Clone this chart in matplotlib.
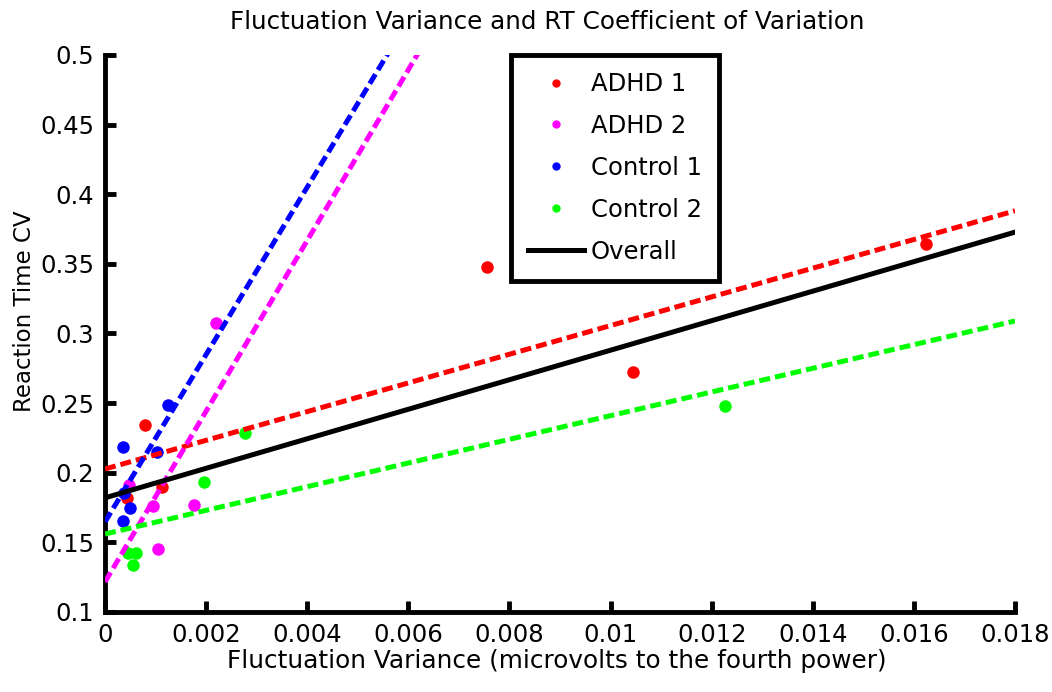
import numpy as np
import matplotlib
matplotlib.use('Agg')
import matplotlib.pyplot as plt
from matplotlib.lines import Line2D

plt.rcParams['font.family'] = ['DejaVu Sans']

# data
adhd1_x = [0.00044, 0.00079, 0.00113, 0.00756, 0.01044, 0.01624]
adhd1_y = [0.182, 0.234, 0.190, 0.348, 0.272, 0.364]
adhd2_x = [0.00047, 0.00095, 0.00176, 0.00105, 0.00220]
adhd2_y = [0.191, 0.176, 0.177, 0.145, 0.3075]
ctrl1_x = [0.00038, 0.00049, 0.00036, 0.00036, 0.00103, 0.00125]
ctrl1_y = [0.1855, 0.175, 0.165, 0.2185, 0.215, 0.2487]
ctrl2_x = [0.00277, 0.00196, 0.01226, 0.00045, 0.00061, 0.00055]
ctrl2_y = [0.2286, 0.1934, 0.248, 0.1424, 0.1424, 0.1338]

# fitted lines (intercept, slope)
fit_adhd1 = (0.2027, 10.3)
fit_adhd2 = (0.1216, 61.3)
fit_ctrl1 = (0.1647, 60.1)
fit_ctrl2 = (0.156, 8.5)
fit_all = (0.182, 10.6)

groups = [
    ('ADHD 1', adhd1_x, adhd1_y, fit_adhd1, '#ff0000'),
    ('ADHD 2', adhd2_x, adhd2_y, fit_adhd2, '#ff00ff'),
    ('Control 1', ctrl1_x, ctrl1_y, fit_ctrl1, '#0000ff'),
    ('Control 2', ctrl2_x, ctrl2_y, fit_ctrl2, '#00ff00'),
]

fig = plt.figure(figsize=(10.52, 6.92), dpi=100)
ax = fig.add_axes([105/1052, 1-612/692, 910/1052, 557/692])

xx = np.linspace(0, 0.018, 400)

for name, x, y, fit, c in groups:
    ax.plot(x, y, 'o', color=c, markersize=9, markeredgewidth=0, zorder=2)

for name, x, y, fit, c in groups:
    ax.plot(xx, fit[0] + fit[1]*xx, '--', color=c, lw=3.6, dashes=(2.2, 1.0), zorder=3)

ax.plot(xx, fit_all[0] + fit_all[1]*xx, '-', color='black', lw=3.6, zorder=4)

ax.set_xlim(0, 0.018)
ax.set_ylim(0.1, 0.5)
ax.set_xticks(np.arange(0, 0.0181, 0.002))
ax.set_xticklabels(['0', '0.002', '0.004', '0.006', '0.008', '0.01', '0.012', '0.014', '0.016', '0.018'])
ax.set_yticks(np.arange(0.1, 0.501, 0.05))
ax.set_yticklabels(['0.1', '0.15', '0.2', '0.25', '0.3', '0.35', '0.4', '0.45', '0.5'])

for s in ['top', 'right']:
    ax.spines[s].set_visible(False)
for s in ['left', 'bottom']:
    ax.spines[s].set_linewidth(3.5)
ax.tick_params(direction='in', length=8, width=3.5, labelsize=17.5, pad=8)

ax.set_title('Fluctuation Variance and RT Coefficient of Variation', fontsize=17.7, pad=19, x=0.486)
ax.set_xlabel('Fluctuation Variance (microvolts to the fourth power)', fontsize=17.8)
ax.xaxis.set_label_coords(0.497, -0.067)
ax.set_ylabel('Reaction Time CV', fontsize=16.5)
ax.yaxis.set_label_coords(-0.0755, 0.54)

handles = [Line2D([], [], marker='o', ls='none', color=c, markersize=6, markeredgewidth=0)
           for _, _, _, _, c in groups]
handles.append(Line2D([], [], color='black', lw=3.6))
labels = [g[0] for g in groups] + ['Overall']
leg = ax.legend(handles, labels, loc='upper left', bbox_to_anchor=(0.446, 1.0),
                fontsize=17.5, frameon=True, fancybox=False, edgecolor='black',
                framealpha=1, handlelength=2.3, handletextpad=0.3, labelspacing=0.74,
                borderpad=0.7, borderaxespad=0)
leg.get_frame().set_linewidth(3.5)
leg.set_zorder(10)

fig.savefig('out.png', dpi=100, facecolor='white')
